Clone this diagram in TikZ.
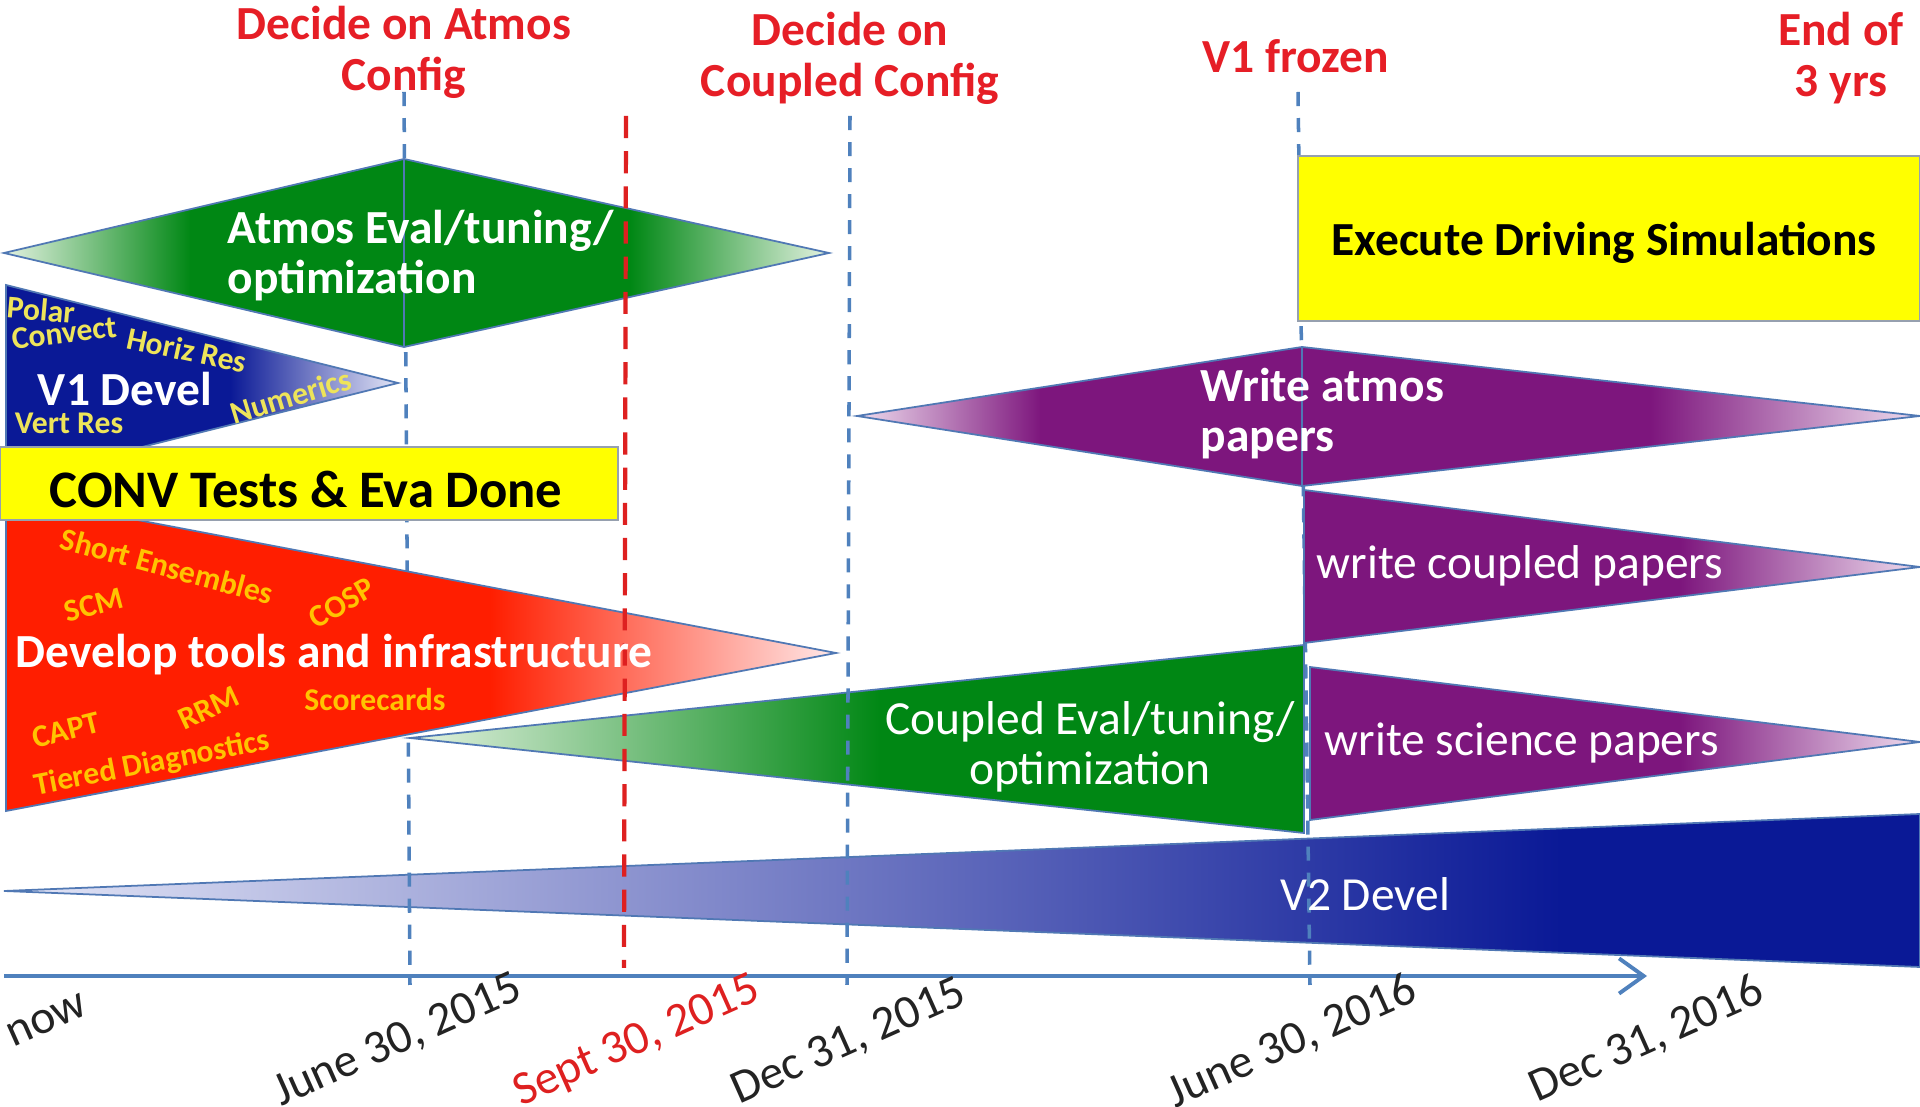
\documentclass[tikz,border=0pt]{standalone}
\usepackage{fontspec}
\setmainfont{Carlito}
\usetikzlibrary{arrows.meta}
\definecolor{milered}{RGB}{230,30,38}
\definecolor{guideblue}{RGB}{79,129,189}
\definecolor{edgeblue}{RGB}{80,120,180}
\definecolor{evalgreen}{RGB}{0,135,20}
\definecolor{palegreen}{RGB}{228,242,225}
\definecolor{devblue}{RGB}{10,25,150}
\definecolor{paleblue}{RGB}{228,230,246}
\definecolor{toolred}{RGB}{255,30,0}
\definecolor{palered}{RGB}{255,232,232}
\definecolor{paperpurple}{RGB}{125,22,125}
\definecolor{palepurple}{RGB}{238,220,238}
\definecolor{boxyellow}{RGB}{255,255,0}
\definecolor{tagyellow}{RGB}{238,228,90}
\definecolor{taggold}{RGB}{255,196,0}
\definecolor{datetext}{RGB}{35,35,35}
\definecolor{redguide}{RGB}{222,32,32}
\definecolor{boxedge}{RGB}{150,160,175}
\begin{document}
\begin{tikzpicture}[x=0.01cm,y=-0.01cm,
  title/.style={text=milered,font=\fontsize{13.5}{14.5}\selectfont\bfseries,align=center,inner sep=0pt},
  boldwhite/.style={text=white,font=\fontsize{13.5}{14.2}\selectfont\bfseries,inner sep=0pt},
  plainwhite/.style={text=white,font=\fontsize{13.5}{14.2}\selectfont,inner sep=0pt},
  boxtext/.style={text=black,font=\fontsize{13.5}{14.2}\selectfont\bfseries,inner sep=0pt},
  tagV/.style={text=tagyellow,font=\fontsize{9}{10}\selectfont\bfseries,inner sep=0pt},
  tagR/.style={text=taggold,font=\fontsize{9}{10}\selectfont\bfseries,inner sep=0pt},
  datelabel/.style={text=datetext,font=\fontsize{13.5}{15}\selectfont,rotate=24,inner sep=0pt},
  outline/.style={draw=edgeblue,line width=0.5pt},
  guide/.style={guideblue,line width=1pt,dash pattern=on 4pt off 3.4pt},
  septguide/.style={redguide,line width=1.2pt,dash pattern=on 6.3pt off 3.7pt},
  milebox/.style={fill=boxyellow,draw=boxedge,line width=0.5pt},
  axisline/.style={guideblue,line width=1.1pt,-{Straight Barb[length=7pt,width=10pt]}}
]
\useasboundingbox (0,0) rectangle (1920,1107);
\fill[white] (0,0) rectangle (1920,1107);

% V2 development wedge
\begin{scope}
  \clip (4,891) -- (1920,814) -- (1920,967) -- cycle;
  \fill[left color=paleblue,right color=devblue] (4,814) rectangle (1561,967);
  \fill[devblue] (1560,814) rectangle (1920,967);
\end{scope}
\draw[outline] (4,891) -- (1920,814) -- (1920,967) -- cycle;

% milestone guides lying behind the bars
\coordinate (g1top) at (404,92);  \coordinate (g1bot) at (410,985);
\coordinate (g4top) at (1298,92); \coordinate (g4bot) at (1310,985);
\draw[guide] (g1top) -- (g1bot);
\draw[guide] (g4top) -- (g4bot);

% Atmos evaluation diamond (two halves)
\begin{scope}
  \clip (4,253) -- (404,159) -- (404,347) -- cycle;
  \fill[left color=palegreen,right color=evalgreen] (4,159) rectangle (191,347);
  \fill[evalgreen] (190,159) rectangle (404,347);
\end{scope}
\begin{scope}
  \clip (404,159) -- (829,253) -- (404,347) -- cycle;
  \fill[evalgreen] (404,159) rectangle (631,347);
  \fill[left color=evalgreen,right color=palegreen] (630,159) rectangle (829,347);
\end{scope}
\draw[outline] (4,253) -- (404,159) -- (829,253) -- (404,347) -- cycle;
\draw[outline] (404,159) -- (404,347);

% V1 development wedge
\begin{scope}
  \clip (6,285) -- (398,383) -- (6,481) -- cycle;
  \fill[devblue] (6,285) rectangle (231,481);
  \fill[left color=devblue,right color=paleblue] (230,285) rectangle (398,481);
\end{scope}
\draw[outline] (6,285) -- (398,383) -- (6,481) -- cycle;

% tools and infrastructure wedge
\begin{scope}
  \clip (6,495) -- (836,653) -- (6,811) -- cycle;
  \fill[toolred] (6,495) rectangle (491,811);
  \fill[left color=toolred,right color=palered] (490,495) rectangle (836,811);
\end{scope}
\draw[outline] (6,495) -- (836,653) -- (6,811) -- cycle;

% convergence test box
\draw[milebox] (0,447) rectangle (618,520);

% coupled evaluation wedge
\begin{scope}
  \clip (410,738) -- (1304,645) -- (1304,833) -- cycle;
  \fill[left color=palegreen,right color=evalgreen] (410,645) rectangle (881,833);
  \fill[evalgreen] (880,645) rectangle (1304,833);
\end{scope}
\draw[outline] (410,738) -- (1304,645) -- (1304,833) -- cycle;

% atmosphere papers diamond (two halves)
\begin{scope}
  \clip (857,416) -- (1302,347) -- (1302,486) -- cycle;
  \fill[left color=palepurple,right color=paperpurple] (857,347) rectangle (1041,486);
  \fill[paperpurple] (1040,347) rectangle (1302,486);
\end{scope}
\begin{scope}
  \clip (1302,347) -- (1920,416) -- (1302,486) -- cycle;
  \fill[paperpurple] (1302,347) rectangle (1651,486);
  \fill[left color=paperpurple,right color=palepurple] (1650,347) rectangle (1920,486);
\end{scope}
\draw[outline] (857,416) -- (1302,347) -- (1920,416) -- (1302,486) -- cycle;
\draw[outline] (1302,347) -- (1302,486);

% coupled papers wedge
\begin{scope}
  \clip (1304,490) -- (1920,567) -- (1304,643) -- cycle;
  \fill[paperpurple] (1304,490) rectangle (1681,643);
  \fill[left color=paperpurple,right color=palepurple] (1680,490) rectangle (1920,643);
\end{scope}
\draw[outline] (1304,490) -- (1920,567) -- (1304,643) -- cycle;

% science papers wedge
\begin{scope}
  \clip (1310,667) -- (1920,742) -- (1310,820) -- cycle;
  \fill[paperpurple] (1310,667) rectangle (1681,820);
  \fill[left color=paperpurple,right color=palepurple] (1680,667) rectangle (1920,820);
\end{scope}
\draw[outline] (1310,667) -- (1920,742) -- (1310,820) -- cycle;

% driving simulations box
\draw[milebox] (1298,156) rectangle (1920,321);

% milestone guides lying over the bars
\coordinate (g2top) at (626,116); \coordinate (g2bot) at (624,968);
\coordinate (g3top) at (850,116); \coordinate (g3bot) at (847,985);
\draw[guide] (g3top) -- (g3bot);
\draw[septguide] (g2top) -- (g2bot);

% time axis
\coordinate (axisStart) at (4,976);
\coordinate (axisEnd) at (1647,976);
\draw[axisline] (axisStart) -- (axisEnd);

% milestone titles
\node[title] (tAtmos) at (404,52) {Decide on Atmos\\Config};
\node[title] (tCoupled) at (850,58) {Decide on\\Coupled Config};
\node[title] (tFrozen) at (1296,56) {V1 frozen};
\node[title] (tEnd) at (1841,58) {End of\\3 yrs};

% bar labels
\node[boldwhite,anchor=west,align=left] (atmosEval) at (227,256) {Atmos Eval/tuning/\\optimization};

\node[tagV,rotate=-5] (tPolar) at (41,310) {Polar};
\node[tagV,rotate=7] (tConvect) at (64,333) {Convect};
\node[tagV,rotate=-12] (tHoriz) at (187,350) {Horiz Res};
\node[boldwhite] (vOne) at (125,389) {V1 Devel};
\node[tagV,rotate=17] (tNumerics) at (291,396) {Numerics};
\node[tagV] (tVert) at (69,423) {Vert Res};

\node[boxtext,font=\fontsize{15}{16}\selectfont\bfseries] (conv) at (306,489) {CONV Tests \& Eva Done};

\node[tagR,rotate=-15] (tShort) at (167,566) {Short Ensembles};
\node[tagR,rotate=15] (tSCM) at (94,605) {SCM};
\node[tagR,rotate=30] (tCOSP) at (342,603) {COSP};
\node[boldwhite,anchor=west] (tools) at (15,655) {Develop tools and infrastructure};
\node[tagR,rotate=14] (tCAPT) at (66,730) {CAPT};
\node[tagR,rotate=25] (tRRM) at (209,708) {RRM};
\node[tagR] (tScore) at (375,700) {Scorecards};
\node[tagR,rotate=11] (tTiered) at (152,764) {Tiered Diagnostics};

\node[plainwhite,align=center] (coupledEval) at (1090,747) {Coupled Eval/tuning/\\optimization};
\node[boldwhite,anchor=west,align=left] (atmosPapers) at (1200,414) {Write atmos\\papers};
\node[plainwhite,anchor=west] (coupledPapers) at (1316,566) {write coupled papers};
\node[plainwhite,anchor=west] (sciencePapers) at (1324,743) {write science papers};
\node[boxtext] (driving) at (1604,243) {Execute Driving Simulations};
\node[plainwhite] (vTwo) at (1365,894) {V2 Devel};

% dates along the axis
\node[datelabel] (dNow) at (47,1020) {now};
\node[datelabel] (dJun15) at (398,1041) {June 30, 2015};
\node[datelabel,text=redguide] (dSep15) at (637,1042) {Sept 30, 2015};
\node[datelabel] (dDec15) at (849,1042) {Dec 31, 2015};
\node[datelabel] (dJun16) at (1292,1042) {June 30, 2016};
\node[datelabel] (dDec16) at (1647,1040) {Dec 31, 2016};
\end{tikzpicture}
\end{document}
